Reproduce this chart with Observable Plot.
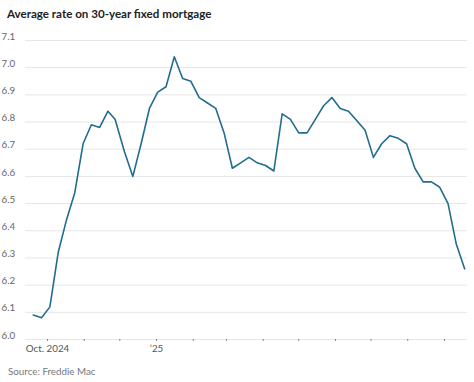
<!DOCTYPE html>
<html>
<head>
<meta charset="utf-8">
<script src="https://cdn.jsdelivr.net/npm/d3@7"></script>
<script src="https://cdn.jsdelivr.net/npm/@observablehq/plot@0.6"></script>
<style>
  html, body { margin: 0; padding: 0; background: #fff; }
  body { width: 474px; height: 382px; overflow: hidden; font-family: Lato, "Noto Sans", sans-serif; }
  #title { height: 22px; padding: 7px 0 0 7px; box-sizing: border-box; font-size: 11.6px; font-weight: 700; color: #222; line-height: 14px; }
  #chart { height: 340px; }
  #source { padding: 3px 0 0 8px; font-size: 9.8px; color: #777; }
</style>
</head>
<body>
<div id="title">Average rate on 30-year fixed mortgage</div>
<div id="chart"></div>
<div id="source">Source: Freddie Mac</div>
<script>
const dates = [
  "2024-09-19","2024-09-26","2024-10-03","2024-10-10","2024-10-17","2024-10-24","2024-10-31",
  "2024-11-07","2024-11-14","2024-11-21","2024-11-27","2024-12-05","2024-12-12","2024-12-19","2024-12-26",
  "2025-01-02","2025-01-09","2025-01-16","2025-01-23","2025-01-30","2025-02-06","2025-02-13","2025-02-20","2025-02-27",
  "2025-03-06","2025-03-13","2025-03-20","2025-03-27","2025-04-03","2025-04-10","2025-04-17","2025-04-24",
  "2025-05-01","2025-05-08","2025-05-15","2025-05-22","2025-05-29","2025-06-05","2025-06-12","2025-06-18","2025-06-26",
  "2025-07-03","2025-07-10","2025-07-17","2025-07-24","2025-07-31","2025-08-07","2025-08-14","2025-08-21","2025-08-28",
  "2025-09-04","2025-09-11","2025-09-18"
];
const rates = [
  6.09,6.08,6.12,6.32,6.44,6.54,6.72,
  6.79,6.78,6.84,6.81,6.69,6.60,6.72,6.85,
  6.91,6.93,7.04,6.96,6.95,6.89,6.87,6.85,6.76,
  6.63,6.65,6.67,6.65,6.64,6.62,6.83,6.81,
  6.76,6.76,6.81,6.86,6.89,6.85,6.84,6.81,6.77,
  6.67,6.72,6.75,6.74,6.72,6.63,6.58,6.58,6.56,
  6.50,6.35,6.26
];
const yTicks = [6.0,6.1,6.2,6.3,6.4,6.5,6.6,6.7,6.8,6.9,7.0,7.1];
const xTickDates = ["2024-10-01","2024-11-01","2024-12-01","2025-01-01","2025-02-01","2025-03-01","2025-04-01","2025-05-01","2025-06-01","2025-07-01","2025-08-01","2025-09-01"];
const xTickLabels = ["Oct. 2024","","","\u201925","","","","","","","",""];

const data = dates.map((d, i) => ({date: new Date(d + "T00:00:00"), rate: rates[i]}));
const xt = xTickDates.map(d => new Date(d + "T00:00:00"));
const labelOf = new Map(xt.map((d, i) => [+d, xTickLabels[i]]));

const chart = Plot.plot({
  width: 474,
  height: 340,
  marginLeft: 25,
  marginRight: 7,
  marginTop: 18,
  marginBottom: 23,
  style: {fontFamily: "Lato, 'Noto Sans', sans-serif", background: "#fff"},
  x: {type: "time", domain: [new Date("2024-09-12T10:00:00"), new Date("2025-09-20T10:00:00")]},
  y: {domain: [6.0, 7.1]},
  marks: [
    Plot.ruleY(yTicks, {stroke: "#e6e6e6", strokeWidth: 1}),
    Plot.axisY(yTicks, {tickSize: 0, textAnchor: "start", dx: -15, dy: -4, fontSize: 9.8, fill: "#666", tickFormat: d => d.toFixed(1), label: null}),
    Plot.axisX(xt, {tickSize: 2, stroke: "#888", tickPadding: 4, fontSize: 9.8, fill: "#555", tickFormat: d => labelOf.get(+d), label: null}),
    Plot.lineY(data, {x: "date", y: "rate", stroke: "#226c8f", strokeWidth: 1.6, curve: "linear"})
  ]
});
document.getElementById("chart").appendChild(chart);
</script>
</body>
</html>
